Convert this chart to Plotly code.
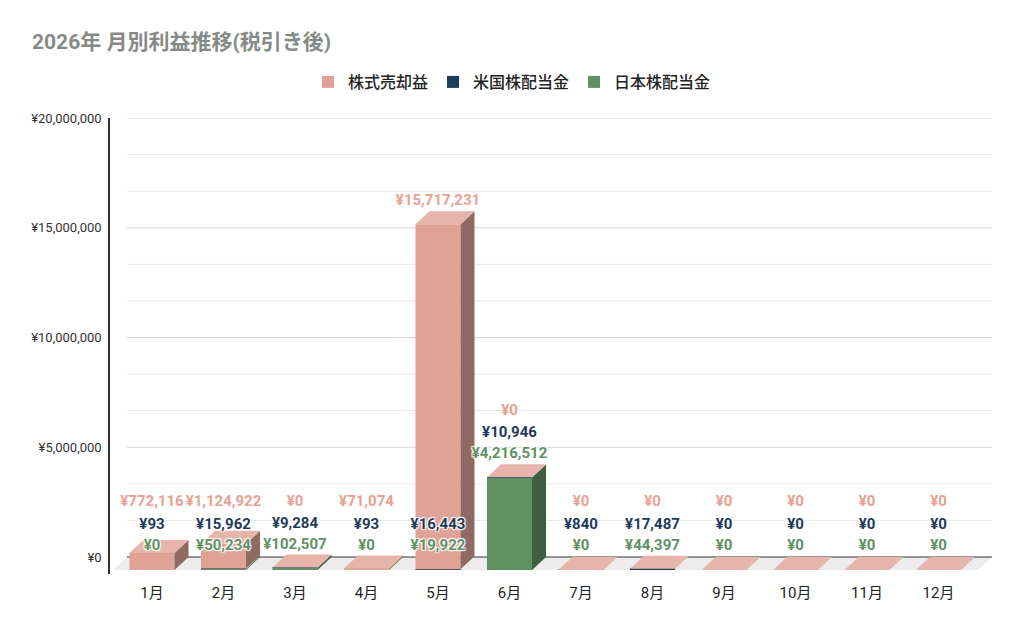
import plotly.graph_objects as go

months = [f"{m}月" for m in range(1, 13)]
stock = [772116, 1124922, 0, 71074, 15717231, 0, 0, 0, 0, 0, 0, 0]
us_div = [93, 15962, 9284, 93, 16443, 10946, 840, 17487, 0, 0, 0, 0]
jp_div = [0, 50234, 102507, 0, 19922, 4216512, 0, 44397, 0, 0, 0, 0]

y_ticks = [0, 5000000, 10000000, 15000000, 20000000]
y_ticktext = [f"¥{v:,}" for v in y_ticks]

# 下から積む順: (名前, 値, 正面色, 側面色, ラベル色, ラベル既定位置px, ラベル間隔px)
series = [
    ("日本株配当金", jp_div, "#5e9062", "#3e5e40", "#5f9163", 11, 0),
    ("米国株配当金", us_div, "#1f3d5c", "#14283b", "#1f3b5a", 32, 21),
    ("株式売却益", stock, "#e0a297", "#8f6a62", "#e8a194", 55, 22),
]

# 画面上のスケール (px) -> データ単位
U = 20000000 / 439          # 1px あたりの金額
XU = 1 / 71.5               # 1px あたりのカテゴリ幅
D = 13 * U                  # 奥行き(縦)
DX = 14 * XU                # 奥行き(横)
W = 0.63                    # 棒の幅
x_range = [(110 - 152) * XU, (992 - 152) * XU]
y_range = [-17 * U, 20000000]
floor_x0 = (127 - 152) * XU

fig = go.Figure()

cum = [0.0] * 12
prev_label = [None] * 12
side_traces = []
label_traces = []
for name, vals, front, side, lab_col, lab_def, lab_gap in series:
    base = [cum[i] - D for i in range(12)]
    fig.add_trace(go.Bar(
        x=list(range(12)), y=vals, base=base, width=W, name=name,
        marker=dict(color=front, line=dict(width=0)), hoverinfo="skip"))
    sx, sy = [], []
    lx, ly = [], []
    for i, v in enumerate(vals):
        c0, c1 = cum[i], cum[i] + v
        if v > 0:
            xr = i + W / 2
            sx += [xr, xr + DX, xr + DX, xr, xr, None]
            sy += [c0 - D, c0, c1, c1 - D, c0 - D, None]
        yl = max(lab_def * U, c1 + 10 * U)
        if prev_label[i] is not None:
            yl = max(yl, prev_label[i] + lab_gap * U)
        prev_label[i] = yl
        lx.append(i)
        ly.append(yl)
        cum[i] = c1
    side_traces.append(go.Scatter(
        x=sx, y=sy, mode="lines", fill="toself", fillcolor=side,
        line=dict(width=0, color=side), showlegend=False, hoverinfo="skip"))
    label_traces.append(go.Scatter(
        x=lx, y=ly, mode="text", text=[f"¥{v:,}" for v in vals],
        textposition="middle center", cliponaxis=False,
        textfont=dict(family="Roboto, Noto Sans CJK JP", size=15, color=lab_col, weight="bold",
                      shadow="1px 1px 1px #fff, -1px -1px 1px #fff, 1px -1px 1px #fff, -1px 1px 1px #fff"),
        showlegend=False, hoverinfo="skip"))

# 上面
tx, ty = [], []
for i in range(12):
    t = cum[i]
    xl, xr = i - W / 2, i + W / 2
    tx += [xl, xl + DX, xr + DX, xr, xl, None]
    ty += [t - D, t, t, t - D, t - D, None]

for tr in side_traces:
    fig.add_trace(tr)
fig.add_trace(go.Scatter(
    x=tx, y=ty, mode="lines", fill="toself", fillcolor="#e6b4aa",
    line=dict(width=0, color="#e6b4aa"), showlegend=False, hoverinfo="skip"))
for tr in label_traces:
    fig.add_trace(tr)

# グリッド線・床
shapes = []
step = 5000000 / 3
for k in range(1, 13):
    g = k * step
    major = k % 3 == 0
    shapes.append(dict(type="line", xref="x", yref="y", x0=floor_x0, x1=x_range[1], y0=g, y1=g,
                       layer="below", line=dict(color="#d6d6d6" if major else "#e9e9e9", width=1)))
shapes.append(dict(
    type="path", xref="x", yref="y", layer="below", fillcolor="#ececec", line=dict(width=0),
    path=f"M{floor_x0},0 L{x_range[1]},0 L{x_range[1] - DX},{-D} L{floor_x0 - DX},{-D} Z"))
shapes.append(dict(type="line", xref="x", yref="y", x0=floor_x0, x1=x_range[1], y0=0, y1=0,
                   layer="below", line=dict(color="#333333", width=1.2)))

fig.update_layout(
    width=1024, height=632,
    margin=dict(l=110, r=32, t=118, b=58),
    paper_bgcolor="white", plot_bgcolor="white",
    barmode="overlay",
    font=dict(family="Roboto, Noto Sans CJK JP", color="#222222"),
    title=dict(text="<b>2026年 月別利益推移(税引き後)</b>", x=32 / 1024, xanchor="left",
               y=1 - 42 / 632, yanchor="middle", xref="container", yref="container",
               font=dict(size=21, color="#858a86", family="Roboto, Noto Sans CJK JP")),
    legend=dict(orientation="h", x=0.5, xanchor="center", xref="container",
                y=1 - 82 / 632, yanchor="middle", yref="container", traceorder="reversed",
                font=dict(size=16, color="#222222", weight=500)),
    shapes=shapes,
    xaxis=dict(range=x_range, tickvals=list(range(12)), ticktext=months, showgrid=False,
               zeroline=False, showline=False, automargin=False, ticklabelstandoff=8,
               tickfont=dict(size=15, color="#222222")),
    yaxis=dict(range=y_range, tickvals=y_ticks, ticktext=y_ticktext, showgrid=False,
               zeroline=False, showline=True, linecolor="#333333", linewidth=1.5, automargin=False,
               tickfont=dict(size=13, color="#333333"), ticklabelstandoff=4),
)

fig.write_html("out.html", config={"displayModeBar": False},
               post_script="document.body.style.margin='0';")
